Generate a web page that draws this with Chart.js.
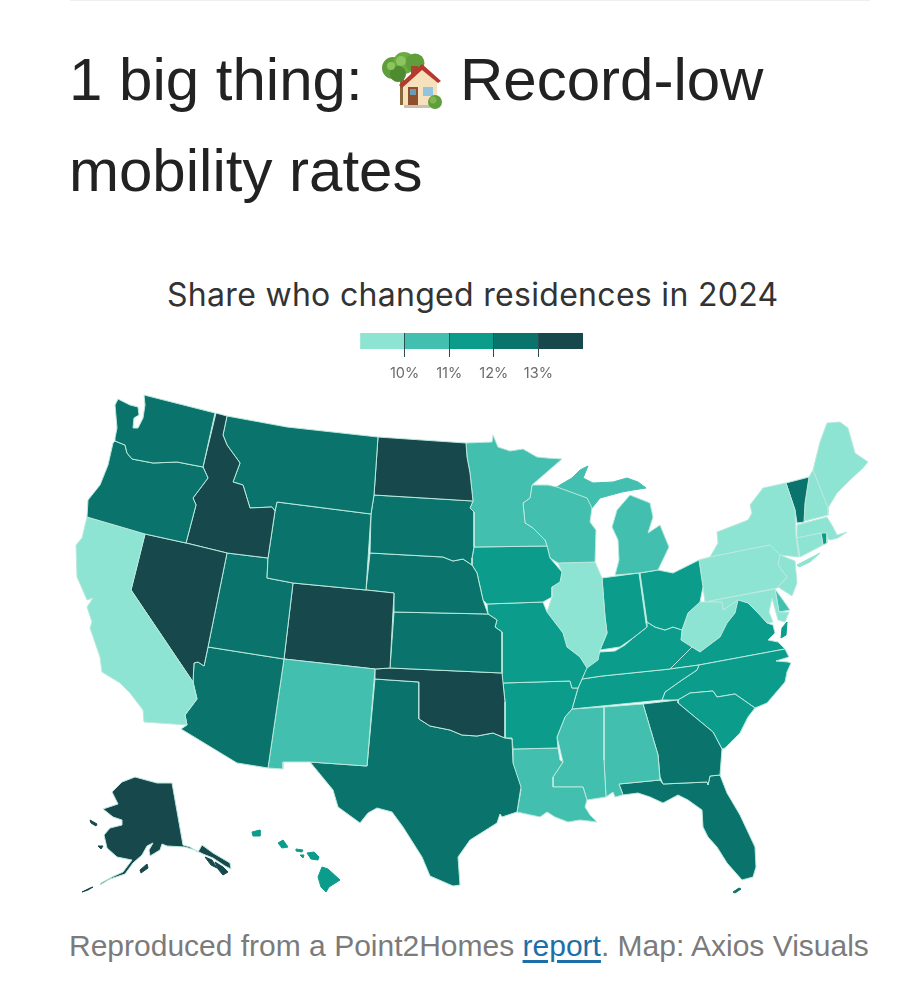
<!DOCTYPE html>
<html lang="en">
<head>
<meta charset="utf-8">
<title>Record-low mobility rates</title>
<script src="https://cdn.jsdelivr.net/npm/chart.js@4/dist/chart.umd.min.js"></script>
<style>
  html, body { margin: 0; padding: 0; background: #fff; }
  #page { position: relative; width: 906px; height: 1000px; overflow: hidden; font-family: "Liberation Sans", Arial, sans-serif; }
  #page > * { position: absolute; white-space: nowrap; }
  #rule { left: 70px; top: 0; width: 800px; height: 1px; background: #eeeeee; }
  .headline { left: 69px; font-size: 60px; line-height: 70px; color: #222; }
  #record { left: 460px; }
  #house { left: 378px; top: 50px; width: 70px; height: 62px; }
  #subtitle { left: 167px; top: 275px; font-family: Inter, sans-serif; font-size: 32px; line-height: 40px; color: #333; letter-spacing: 0.3px; }
  #legendChart { left: 352px; top: 333px; }
  #mapChart { left: 0; top: 385px; }
  #source { left: 69px; top: 928px; font-size: 30px; line-height: 36px; color: #7b7b7b; }
  #source a { color: #1d6fa8; text-decoration: underline; text-underline-offset: 4px; }
</style>
</head>
<body>
<div id="page">
  <div id="rule"></div>
  <div class="headline" style="top:45px">1 big thing:</div>
  <svg id="house" viewBox="0 0 70 62" role="img" aria-label="house with garden">
    <rect x="22" y="28" width="4" height="27" fill="#8a6a3c"/>
    <circle cx="15" cy="18" r="11" fill="#5f9e3a"/><circle cx="26" cy="13" r="11" fill="#6cab42"/><circle cx="37" cy="13" r="9.5" fill="#5f9e3a"/><circle cx="20" cy="24" r="8" fill="#4d8a30"/><circle cx="23" cy="11" r="5" fill="#8cc45e"/><circle cx="13" cy="16" r="4" fill="#8cc45e"/>
    <rect x="33" y="16" width="7" height="11" fill="#a8452f"/>
    <polygon points="25,33 44,17 59,31 59,55 25,55" fill="#f7e0bc"/>
    <polygon points="21,35 44,14 63,31 60,33 44,20 24,38" fill="#b5392f"/>
    <rect x="30" y="37" width="10" height="18" fill="#8f4e2e"/><rect x="32" y="39" width="6" height="6" fill="#6c9bb5"/>
    <rect x="45" y="37" width="10" height="9" fill="#8fc5de"/>
    <rect x="26" y="55" width="26" height="3" fill="#c9c0b4"/>
    <circle cx="57" cy="52" r="7" fill="#5f9e3a"/><circle cx="55" cy="50" r="3.5" fill="#7cb850"/>
  </svg>
  <div class="headline" id="record" style="top:45px">Record-low</div>
  <div class="headline" style="top:136px">mobility rates</div>
  <div id="subtitle">Share who changed residences in 2024</div>
  <canvas id="legendChart" width="239" height="50"></canvas>
  <canvas id="mapChart" width="906" height="515"></canvas>
  <div id="source">Reproduced from a Point2Homes <a href="#">report</a>. Map: Axios Visuals</div>
</div>
<script>
// legend bins and ticks
const rateBins = ['under 10%', '10-11%', '11-12%', '12-13%', '13% and up'];
const binColors = ['#8ee4d3', '#42bfae', '#0b9c8c', '#0a746c', '#17484c'];
const binLimits = [10, 11, 12, 13];
const tickLabels = ['10%', '11%', '12%', '13%'];

// share who moved, estimated from the colour class of each state
const stateNames = ['WA','OR','CA','NV','ID','MT','WY','UT','AZ','NM','CO','ND','SD','NE','KS','OK','TX','MN','IA','MO','AR','LA','WI','IL','MI','IN','OH','KY','TN','MS','AL','GA','FL','SC','NC','VA','WV','MD','DE','PA','NJ','NY','CT','RI','MA','VT','NH','ME','AK','HI'];
const stateRates = [12.4,12.5,9.6,13.3,13.4,12.4,12.5,12.3,12.5,10.6,13.2,13.5,12.3,12.4,12.3,13.2,12.5,10.5,11.5,11.6,11.5,10.6,10.4,9.8,10.6,11.4,11.5,11.6,11.7,10.7,10.6,12.4,12.6,11.7,11.6,11.5,9.6,9.9,10.8,9.7,9.8,9.5,9.7,11.6,9.8,12.1,9.9,9.7,13.6,11.5];

// outlines in map units, one or more rings per state
const outlineWA = [[[144,395],[215,413],[203,467],[177,462],[153,463],[132,459],[127,453],[125,445],[115,441],[115,438],[117,428],[115,405],[118,399],[130,405],[138,407],[139,415],[134,418],[133,428],[138,428],[143,418],[145,405]]];
const outlineOR = [[[115,441],[125,445],[127,453],[132,459],[153,463],[177,462],[203,467],[208,478],[193,498],[196,505],[186,543],[145,534],[87,517],[88,500],[100,485],[108,465],[113,443]]];
const outlineCA = [[[87,517],[145,534],[131,590],[193,682],[197,699],[185,715],[187,725],[144,722],[143,710],[130,693],[120,683],[102,672],[100,657],[90,628],[92,622],[87,607],[93,598],[87,600],[77,577],[76,545],[82,538]]];
const outlineNV = [[[145,534],[186,543],[227,553],[208,647],[204,666],[198,662],[194,663],[193,682],[131,590]]];
const outlineID = [[[216,413],[227,416],[223,435],[227,445],[240,463],[233,482],[243,485],[250,508],[272,507],[275,511],[268,558],[227,553],[186,543],[196,505],[193,498],[208,478],[203,467]]];
const outlineMT = [[[227,416],[287,427],[378,437],[374,495],[371,514],[277,502],[275,511],[272,507],[250,508],[243,485],[233,482],[240,463],[227,445],[223,435]]];
const outlineWY = [[[277,502],[371,514],[366,590],[293,583],[267,578],[268,558],[275,511]]];
const outlineUT = [[[227,553],[268,558],[267,578],[293,583],[284,659],[208,647]]];
const outlineAZ = [[[208,647],[284,659],[268,768],[237,763],[181,729],[187,725],[185,715],[197,699],[193,682],[194,663],[198,662],[204,666]]];
const outlineNM = [[[284,659],[375,669],[367,766],[310,762],[283,762],[283,769],[268,768]]];
const outlineCO = [[[293,583],[366,590],[394,593],[390,668],[375,669],[284,659]]];
const outlineND = [[[378,437],[466,443],[467,457],[470,473],[473,501],[374,495]]];
const outlineSD = [[[374,495],[473,501],[470,508],[474,512],[474,547],[472,558],[472,565],[463,559],[453,561],[443,557],[370,553],[371,514]]];
const outlineNE = [[[370,553],[443,557],[453,561],[463,559],[472,565],[477,573],[483,600],[488,614],[394,612],[394,593],[366,590]]];
const outlineKS = [[[394,612],[488,614],[497,620],[495,627],[502,632],[502,673],[390,668]]];
const outlineOK = [[[375,669],[390,668],[502,673],[505,702],[505,738],[493,733],[477,736],[462,735],[450,730],[430,726],[419,719],[419,682],[375,679]]];
const outlineTX = [[[375,679],[419,682],[419,719],[430,726],[450,730],[462,735],[477,736],[493,733],[505,738],[512,739],[513,763],[521,787],[517,812],[502,817],[500,814],[497,823],[470,840],[458,857],[460,885],[453,886],[430,876],[422,857],[403,827],[392,812],[377,808],[368,813],[360,823],[338,807],[333,790],[310,762],[367,766]]];
const outlineMN = [[[466,443],[492,442],[493,435],[498,447],[510,451],[523,449],[537,457],[547,458],[562,459],[547,472],[532,485],[530,498],[523,503],[525,523],[533,528],[545,540],[547,546],[474,547],[474,512],[470,508],[473,501],[470,473],[467,457]]];
const outlineIA = [[[474,547],[547,546],[550,558],[562,572],[560,582],[552,587],[552,597],[543,602],[487,604],[483,600],[477,573],[472,565],[472,558]]];
const outlineMO = [[[487,604],[543,602],[547,612],[563,633],[567,647],[580,657],[587,668],[586,670],[582,679],[578,688],[572,688],[570,681],[503,683],[502,632],[495,627],[497,620],[488,614]]];
const outlineAR = [[[503,683],[570,681],[572,688],[578,688],[572,709],[565,717],[557,737],[558,748],[513,749],[512,738],[505,738],[505,702]]];
const outlineLA = [[[513,749],[558,748],[560,760],[563,762],[553,777],[553,787],[583,787],[587,800],[585,807],[590,815],[597,822],[580,820],[568,822],[555,817],[547,812],[540,817],[517,812],[521,790],[513,770]]];
const outlineWI = [[[532,485],[548,485],[557,487],[587,498],[592,508],[590,522],[596,530],[595,562],[558,563],[550,558],[547,546],[545,540],[533,528],[525,523],[523,503],[530,498]]];
const outlineIL = [[[558,563],[595,562],[602,578],[605,617],[607,633],[600,650],[598,660],[587,668],[580,657],[567,647],[563,633],[547,612],[552,597],[552,587],[560,582],[562,572]]];
const outlineMI = [[[630,495],[650,503],[653,517],[648,533],[660,525],[669,547],[658,570],[639,573],[615,575],[619,560],[618,540],[612,527],[617,510]],[[557,487],[560,485],[572,478],[580,470],[588,466],[583,478],[593,483],[613,482],[627,478],[638,482],[646,488],[633,490],[622,492],[600,498],[592,508],[587,498]]];
const outlineIN = [[[602,578],[639,573],[646,623],[647,627],[633,638],[620,647],[600,650],[607,633],[605,617]]];
const outlineOH = [[[640,573],[658,570],[673,573],[699,560],[703,587],[700,602],[688,613],[682,630],[673,627],[665,630],[655,627],[647,622]]];
const outlineKY = [[[586,668],[600,652],[615,651],[625,645],[633,638],[647,627],[647,622],[655,627],[665,630],[673,627],[682,630],[681,640],[692,647],[690,649],[670,669],[602,676],[582,679]]];
const outlineTN = [[[582,679],[602,676],[670,669],[699,665],[697,670],[682,680],[665,692],[662,700],[572,709],[578,688]]];
const outlineMS = [[[572,709],[604,707],[604,760],[606,797],[587,800],[583,787],[553,787],[553,777],[563,762],[557,737],[565,717]]];
const outlineAL = [[[604,707],[643,704],[658,755],[660,780],[619,784],[623,795],[615,797],[613,792],[606,797],[604,760]]];
const outlineGA = [[[643,704],[678,700],[678,703],[690,713],[713,732],[722,749],[720,775],[710,776],[708,785],[707,782],[663,784],[660,777],[658,755]]];
const outlineFL = [[[619,784],[660,780],[663,784],[707,782],[708,785],[710,776],[720,775],[727,793],[740,815],[755,847],[756,867],[753,877],[742,880],[727,863],[717,847],[708,837],[703,827],[702,810],[688,800],[678,795],[663,803],[650,797],[638,793],[623,795]],[[733,892],[739,888],[741,889],[735,893]]];
const outlineSC = [[[678,700],[690,693],[713,691],[717,697],[735,694],[755,708],[748,717],[740,733],[725,748],[722,749],[713,732],[690,713],[678,703]]];
const outlineNC = [[[699,665],[785,649],[789,657],[776,661],[788,662],[791,663],[787,672],[785,682],[767,703],[755,708],[735,694],[717,697],[713,691],[690,693],[678,700],[662,700],[665,692],[682,680],[697,670]]];
const outlineVA = [[[670,669],[690,649],[692,647],[700,652],[720,637],[727,623],[735,613],[738,600],[748,603],[758,613],[767,623],[773,625],[775,633],[768,640],[778,642],[785,649],[699,665]],[[787,622],[786,635],[781,638],[782,628]]];
const outlineWV = [[[682,630],[688,613],[700,602],[705,602],[722,602],[723,610],[738,600],[735,613],[727,623],[720,637],[700,652],[692,647],[681,640]]];
const outlineMD = [[[705,602],[775,589],[779,612],[789,612],[785,622],[778,620],[772,598],[769,612],[773,622],[767,623],[758,613],[748,603],[738,600],[723,610],[722,602]]];
const outlineDE = [[[775,589],[783,600],[790,610],[779,612]]];
const outlinePA = [[[699,560],[710,557],[770,545],[780,555],[778,565],[787,577],[777,588],[705,602],[703,587]]];
const outlineNJ = [[[780,555],[795,561],[797,583],[792,596],[778,587],[787,577],[778,565]]];
const outlineNY = [[[710,557],[718,543],[717,532],[748,520],[752,513],[750,505],[763,488],[786,483],[795,510],[796,537],[799,557],[780,555],[770,545]],[[797,565],[820,553],[810,562],[799,567]]];
const outlineCT = [[[797,538],[821,533],[823,545],[800,557]]];
const outlineRI = [[[821,533],[827,533],[827,543],[823,545]]];
const outlineMA = [[[797,525],[827,517],[833,527],[837,535],[847,532],[838,538],[830,540],[820,533],[797,538]]];
const outlineVT = [[[786,483],[809,477],[805,503],[804,522],[797,523],[795,510]]];
const outlineNH = [[[809,477],[813,470],[828,508],[828,515],[797,523],[804,522],[805,503]]];
const outlineME = [[[813,470],[820,442],[827,423],[840,422],[848,428],[855,453],[868,462],[863,468],[850,480],[837,493],[828,508]]];
const outlineAK = [[[172,783],[183,845],[190,847],[198,852],[202,845],[213,853],[230,863],[231,869],[225,866],[213,858],[203,854],[195,850],[185,847],[167,846],[162,844],[160,850],[150,856],[149,850],[153,843],[147,846],[142,855],[133,863],[125,874],[110,879],[100,885],[101,883],[112,877],[123,872],[132,860],[117,857],[107,848],[104,835],[110,828],[122,825],[122,820],[113,817],[103,809],[118,804],[112,792],[122,782],[135,777],[157,783]],[[205,857],[212,860],[217,868],[211,865]],[[215,862],[223,867],[228,872],[223,875],[218,869]],[[140,870],[147,864],[148,868],[141,873]],[[98,846],[103,846],[101,849]],[[90,820],[97,824],[96,826],[91,823]],[[82,892],[90,888],[93,887],[88,890]]];
const outlineHI = [[[252,832],[260,830],[260,836],[253,836]],[[278,843],[283,840],[288,847],[282,848]],[[296,849],[303,850],[302,852],[296,851]],[[300,855],[304,855],[303,858]],[[307,853],[314,852],[319,857],[318,860],[311,859]],[[322,867],[328,869],[340,880],[329,887],[326,892],[321,887],[318,877]]];
const stateOutlines = [outlineWA,outlineOR,outlineCA,outlineNV,outlineID,outlineMT,outlineWY,outlineUT,outlineAZ,outlineNM,outlineCO,outlineND,outlineSD,outlineNE,outlineKS,outlineOK,outlineTX,outlineMN,outlineIA,outlineMO,outlineAR,outlineLA,outlineWI,outlineIL,outlineMI,outlineIN,outlineOH,outlineKY,outlineTN,outlineMS,outlineAL,outlineGA,outlineFL,outlineSC,outlineNC,outlineVA,outlineWV,outlineMD,outlineDE,outlinePA,outlineNJ,outlineNY,outlineCT,outlineRI,outlineMA,outlineVT,outlineNH,outlineME,outlineAK,outlineHI];

// colour class of a rate
const binColor = (rate) => {
    let i = binLimits.findIndex((limit) => rate < limit);
    return binColors[i < 0 ? binColors.length - 1 : i];
};

// each ring becomes one closed scatter line
let mapDatasets = [];
stateOutlines.forEach((rings, s) => {
    rings.forEach((ring, r) => {
        let closed = ring.concat([ring[0]]);
        mapDatasets.push({
            label: stateNames[s],
            data: closed.map((p) => ({ x: p[0], y: p[1] })),
            showLine: true,
            fill: 'shape',
            tension: 0,
            pointRadius: 0,
            pointHoverRadius: 0,
            borderWidth: 1,
            borderJoinStyle: 'round',
            // small islands keep their own colour round the edge
            borderColor: (r > 0 || stateNames[s] === 'HI') ? binColor(stateRates[s]) : '#b9e8dd',
            backgroundColor: binColor(stateRates[s])
        });
    });
});

new Chart(document.getElementById('mapChart'), {
    type: 'scatter',
    data: { datasets: mapDatasets },
    options: {
        responsive: false,
        animation: false,
        layout: { padding: 0 },
        plugins: { legend: { display: false }, tooltip: { enabled: false } },
        scales: {
            x: { type: 'linear', display: false, min: 0, max: 906 },
            y: { type: 'linear', display: false, min: 385, max: 900, reverse: true }
        }
    }
});

// legend: one stacked bar with the tick marks running over it
new Chart(document.getElementById('legendChart'), {
    type: 'bar',
    data: {
        labels: ['rate'],
        datasets: rateBins.map((bin, i) => ({
            label: bin,
            data: [1],
            backgroundColor: binColors[i],
            borderWidth: 0,
            barPercentage: 1,
            categoryPercentage: 1
        }))
    },
    options: {
        indexAxis: 'y',
        responsive: false,
        animation: false,
        layout: { padding: 0 },
        plugins: { legend: { display: false }, tooltip: { enabled: false } },
        scales: {
            y: { stacked: true, display: false },
            x: {
                stacked: true,
                min: 0,
                max: rateBins.length,
                // the layout caps an axis at half the canvas, so set the height here
                afterFit: (scale) => { scale.height = 34; },
                border: { display: false },
                grid: {
                    z: 1,
                    tickLength: 8,
                    lineWidth: 1,
                    color: (ctx) => (ctx.tick && tickLabels[ctx.tick.value - 1]) ? '#2a4f52' : 'rgba(0,0,0,0)'
                },
                ticks: {
                    stepSize: 1,
                    maxRotation: 0,
                    padding: 8,
                    color: '#6a6a6a',
                    font: { family: 'Inter', size: 14.5 },
                    callback: (value) => tickLabels[value - 1] || ''
                }
            }
        }
    }
});
</script>
</body>
</html>
